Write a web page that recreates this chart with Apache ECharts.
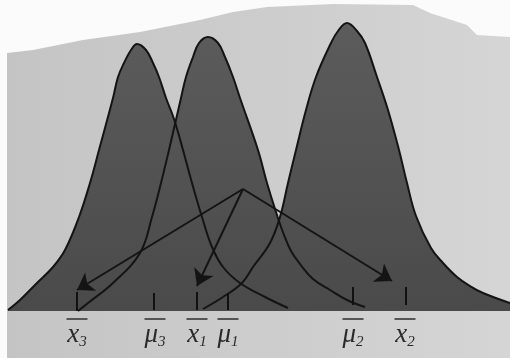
<!DOCTYPE html>
<html>
<head>
<meta charset="utf-8">
<script src="https://cdn.jsdelivr.net/npm/echarts@6/dist/echarts.min.js"></script>
<style>
  html, body { margin: 0; padding: 0; background: #fff; }
  #main { width: 510px; height: 358px; }
</style>
</head>
<body>
<div id="main"></div>
<script>
// curve outlines (x along the axis, height above baseline)
var curve3X = [8, 20, 37, 53, 65, 79, 90, 99, 113, 118, 124, 131, 137, 146, 153, 159, 166, 174, 183, 192, 202, 212, 223, 240, 265, 288];
var curve3Y = [1, 11, 28, 44, 61, 94, 128, 161, 213, 234, 248, 261, 267, 261, 248, 234, 213, 192, 161, 128, 94, 64, 44, 28, 14, 3];

var curve1X = [78, 88, 113, 140, 152, 161, 169, 181, 186, 193, 199, 208, 218, 225, 233, 240, 258, 267, 276, 284, 291, 300, 313, 330, 347, 365];
var curve1Y = [0, 8, 28, 58, 94, 128, 161, 213, 234, 254, 268, 274, 268, 254, 234, 213, 161, 128, 99, 76, 60, 47, 32, 21, 11, 4];

var curve2X = [203, 223, 242, 253, 270, 280, 288, 296, 306, 316, 331, 338, 347, 357, 365, 377, 388, 399, 407, 416, 431, 443, 457, 470, 483, 510];
var curve2Y = [2, 14, 28, 44, 68, 94, 128, 161, 201, 234, 268, 280, 288, 280, 268, 234, 201, 161, 128, 95, 63, 48, 34, 25, 18, 8];

// small vertical marks on the axis: position, bottom, top
var tickPos = [77, 154, 197, 228, 353, 406];
var tickLow = [0, 1, 1, 1, 6, 6];
var tickHigh = [19, 18, 19, 18, 24, 24];

// arrows from one point to the three sample means
var arrowFrom = [243, 122];
var arrowToX = [77, 197, 392];
var arrowToY = [21, 25, 30];

// labels under the axis
var labelPos = [77, 155, 197, 228, 353, 405];
var labelSym = ['x', 'μ', 'x', 'μ', 'μ', 'x'];
var labelSub = ['3', '3', '1', '1', '2', '2'];

function pairs(xs, ys) {
  return xs.map(function (x, i) { return [x, ys[i]]; });
}

var fill = new echarts.graphic.LinearGradient(0, 0, 0, 311, [
  { offset: 0, color: '#5d5d5d' },
  { offset: 1, color: '#4a4a4a' }
], true);

var curves = [pairs(curve3X, curve3Y), pairs(curve1X, curve1Y), pairs(curve2X, curve2Y)];

var series = [];
curves.forEach(function (d) {
  series.push({
    type: 'line', data: d, smooth: 0.4, symbol: 'none', z: 2,
    lineStyle: { width: 0 },
    areaStyle: { color: fill, opacity: 1 }
  });
});
curves.forEach(function (d) {
  series.push({
    type: 'line', data: d, smooth: 0.4, symbol: 'none', z: 3,
    lineStyle: { color: '#141414', width: 2 }
  });
});

series.push({
  type: 'lines', coordinateSystem: 'cartesian2d', z: 4,
  lineStyle: { color: '#111', width: 2, opacity: 1 },
  data: tickPos.map(function (x, i) {
    return { coords: [[x, tickLow[i]], [x, tickHigh[i]]] };
  })
});

series.push({
  type: 'lines', coordinateSystem: 'cartesian2d', z: 5,
  symbol: ['none', 'arrow'], symbolSize: [12, 16],
  lineStyle: { color: '#141414', width: 2, opacity: 1 },
  data: arrowToX.map(function (x, i) {
    return { coords: [arrowFrom, [x, arrowToY[i]]] };
  })
});

var txt = { fontFamily: 'Liberation Serif', fontStyle: 'italic', color: '#2a2a2a' };

var chart = echarts.init(document.getElementById('main'));
chart.setOption({
  animation: false,
  backgroundColor: new echarts.graphic.LinearGradient(0, 0, 1, 0, [
    { offset: 0, color: '#c4c4c4' },
    { offset: 1, color: '#d5d5d5' }
  ]),
  grid: { left: 0, right: 0, top: 0, bottom: 47 },
  xAxis: {
    type: 'value', min: 0, max: 510,
    axisLine: { show: false }, axisTick: { show: false }, splitLine: { show: false },
    axisLabel: {
      customValues: labelPos,
      margin: 7,
      formatter: function (v) {
        var i = labelPos.indexOf(v);
        if (i < 0) return '';
        return '{bar| }\n{v|' + labelSym[i] + '}{s|' + labelSub[i] + '}';
      },
      rich: {
        bar: { width: 21, height: 2, lineHeight: 2, fontSize: 2, backgroundColor: '#555' },
        v: Object.assign({ fontSize: 27, lineHeight: 30 }, txt),
        s: Object.assign({ fontSize: 15, lineHeight: 30, verticalAlign: 'bottom' }, txt)
      }
    }
  },
  yAxis: { type: 'value', min: 0, max: 311, show: false },
  graphic: [
    {
      type: 'polygon', z: -10, silent: true,
      shape: { points: [[0, 0], [510, 0], [510, 37], [477, 35], [467, 25], [430, 13], [413, 5],
        [333, 4], [267, 7], [233, 12], [200, 20], [140, 32], [83, 40], [33, 50], [7, 53], [7, 358], [0, 358]] },
      style: { fill: '#fbfbfb' }
    }
  ],
  series: series
});
</script>
</body>
</html>
